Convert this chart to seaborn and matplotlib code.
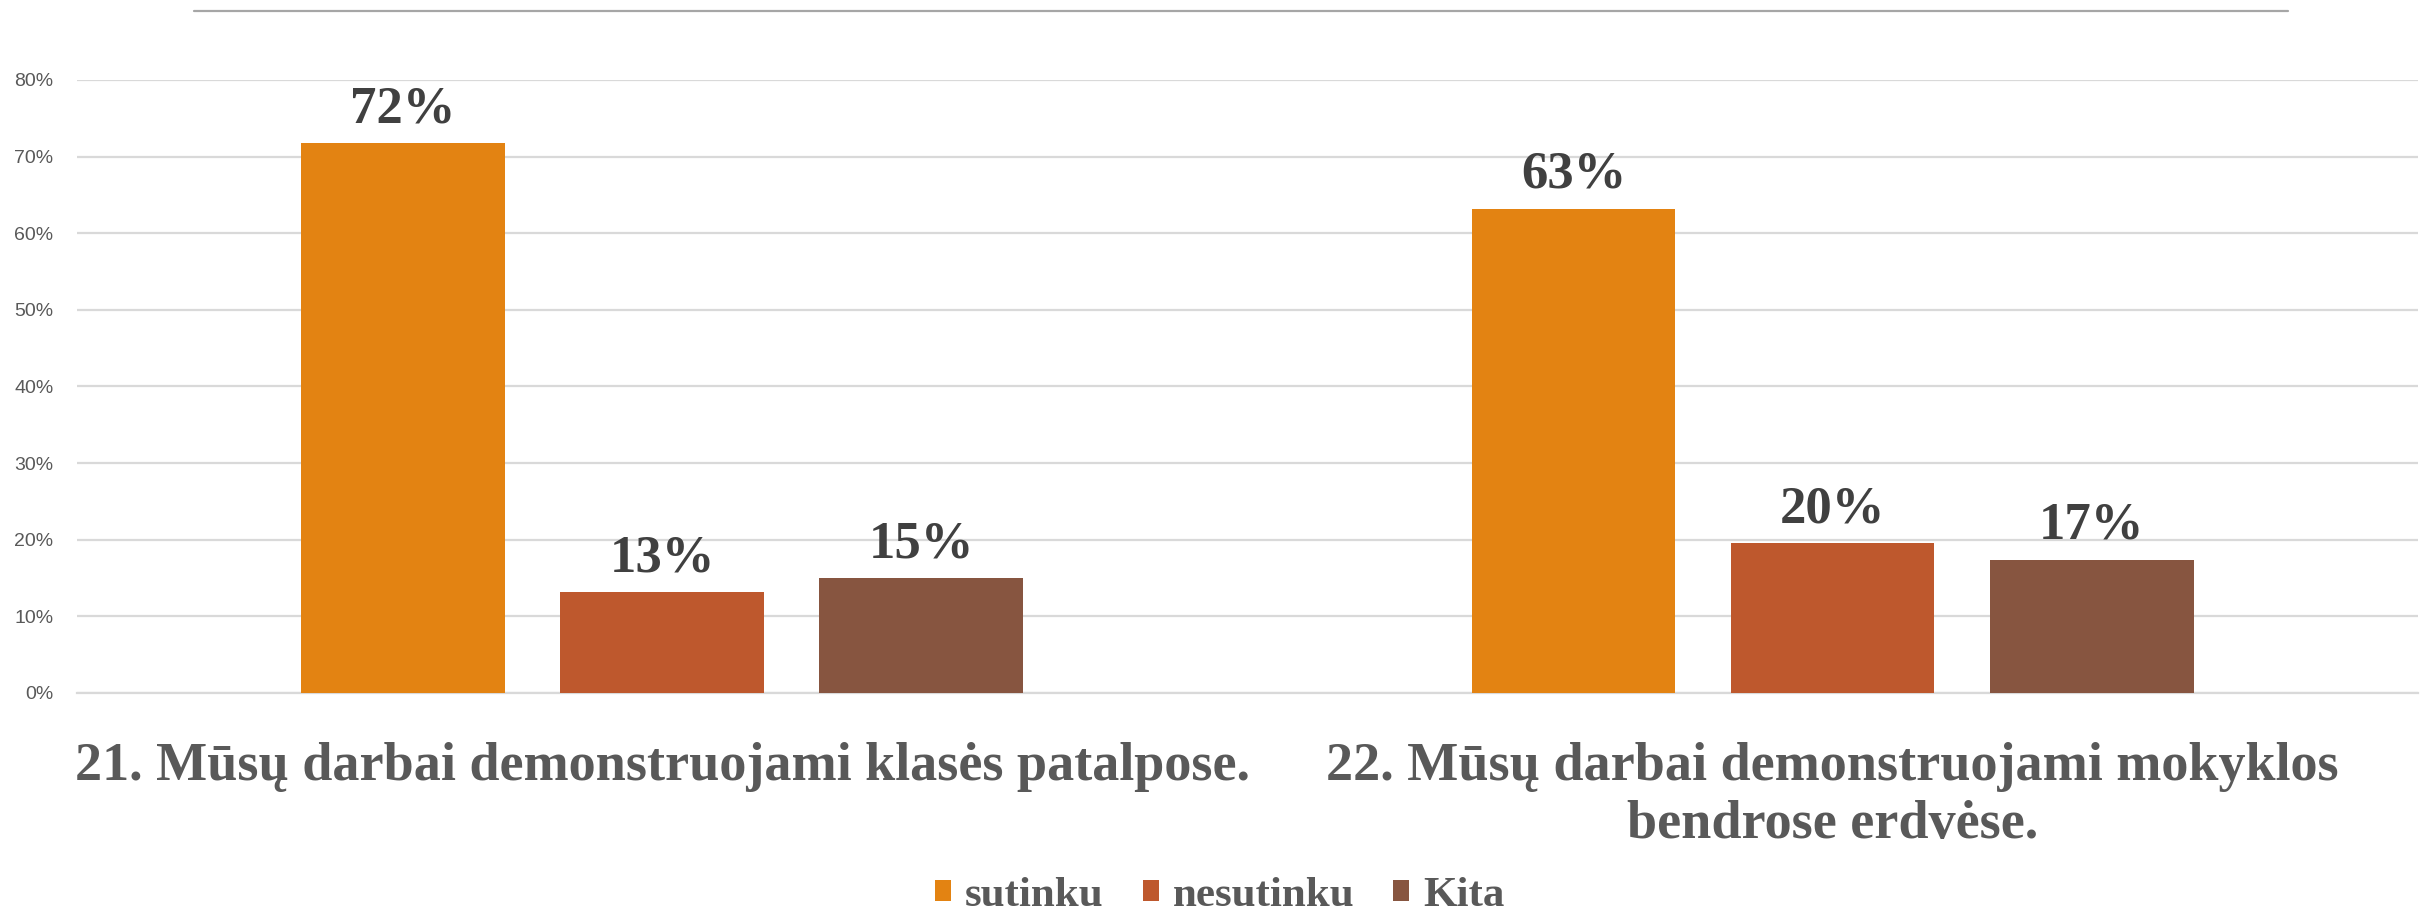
import numpy as np
import pandas as pd
import matplotlib
matplotlib.use("Agg")
import matplotlib.pyplot as plt
import seaborn as sns
from matplotlib.lines import Line2D
from matplotlib.patches import Patch

# 質問（カテゴリ）
QUESTIONS = [
    "21. Mūsų darbai demonstruojami klasės patalpose.",
    "22. Mūsų darbai demonstruojami mokyklos\nbendrose erdvėse.",
]
# 回答の種類
ANSWERS = ["sutinku", "nesutinku", "Kita"]
# 値（%）
SUTINKU = [71.8, 63.2]
NESUTINKU = [13.2, 19.6]
KITA = [15.0, 17.4]
Y_TICKS = [0, 10, 20, 30, 40, 50, 60, 70, 80]

COLORS = ["#E38312", "#BE582D", "#875540"]
TEXT_GRAY = "#595959"
LABEL_GRAY = "#404040"
GRID_GRAY = "#D9D9D9"
SERIF = ["Liberation Serif", "DejaVu Serif"]


def build_frame():
    rows = []
    for answer, values in zip(ANSWERS, [SUTINKU, NESUTINKU, KITA]):
        for q, v in zip(QUESTIONS, values):
            rows.append({"question": q, "answer": answer, "value": v})
    return pd.DataFrame(rows)


def main():
    sns.set_theme(style="white")
    plt.rcParams["font.family"] = ["Liberation Sans", "DejaVu Sans"]

    df = build_frame()

    fig = plt.figure(figsize=(24.3, 9.13), dpi=100)
    ax = fig.add_axes([0.0317, 0.241, 0.9633, 0.6714])

    sns.barplot(
        data=df,
        x="question",
        y="value",
        hue="answer",
        order=QUESTIONS,
        hue_order=ANSWERS,
        palette=COLORS,
        saturation=1,
        width=0.664,
        gap=0.214,
        linewidth=0,
        errorbar=None,
        legend=False,
        ax=ax,
        zorder=3,
    )

    # ラベル（上部）
    for container, values in zip(ax.containers, [SUTINKU, NESUTINKU, KITA]):
        ax.bar_label(
            container,
            labels=[f"{v:.0f}%" for v in values],
            padding=7,
            fontsize=38,
            fontweight="bold",
            family=SERIF,
            color=LABEL_GRAY,
        )

    ax.set_xlim(-0.5, 1.5)
    ax.set_ylim(0, 80)
    ax.set_yticks(Y_TICKS)
    ax.set_yticklabels([f"{t}%" for t in Y_TICKS], fontsize=14, color=TEXT_GRAY)
    ax.yaxis.grid(True, color=GRID_GRAY, linewidth=1.6, zorder=0)
    ax.tick_params(axis="y", length=0, pad=17)
    ax.tick_params(axis="x", length=0, pad=35)
    ax.set_xticks(range(len(QUESTIONS)))
    ax.set_xticklabels(
        QUESTIONS,
        fontsize=39,
        fontweight="bold",
        family=SERIF,
        color=TEXT_GRAY,
        linespacing=1.22,
    )
    ax.set_xlabel("")
    ax.set_ylabel("")
    for side in ["top", "right", "left"]:
        ax.spines[side].set_visible(False)
    ax.spines["bottom"].set_color(GRID_GRAY)
    ax.spines["bottom"].set_linewidth(1.6)

    # 凡例
    handles = [Patch(facecolor=c, edgecolor="none") for c in COLORS]
    leg = fig.legend(
        handles,
        ANSWERS,
        loc="center",
        bbox_to_anchor=(0.502, 0.019),
        ncol=3,
        frameon=False,
        handlelength=0.37,
        handleheight=0.37,
        handletextpad=0.33,
        columnspacing=0.9,
        prop={"family": SERIF, "weight": "bold", "size": 31},
    )
    for t in leg.get_texts():
        t.set_color(TEXT_GRAY)

    # 上部の線
    fig.add_artist(
        Line2D([0.080, 0.9415], [0.988, 0.988], color="#A6A6A6", linewidth=1.6,
               transform=fig.transFigure)
    )

    fig.savefig("out.png", dpi=100)
    plt.close(fig)


if __name__ == "__main__":
    main()
